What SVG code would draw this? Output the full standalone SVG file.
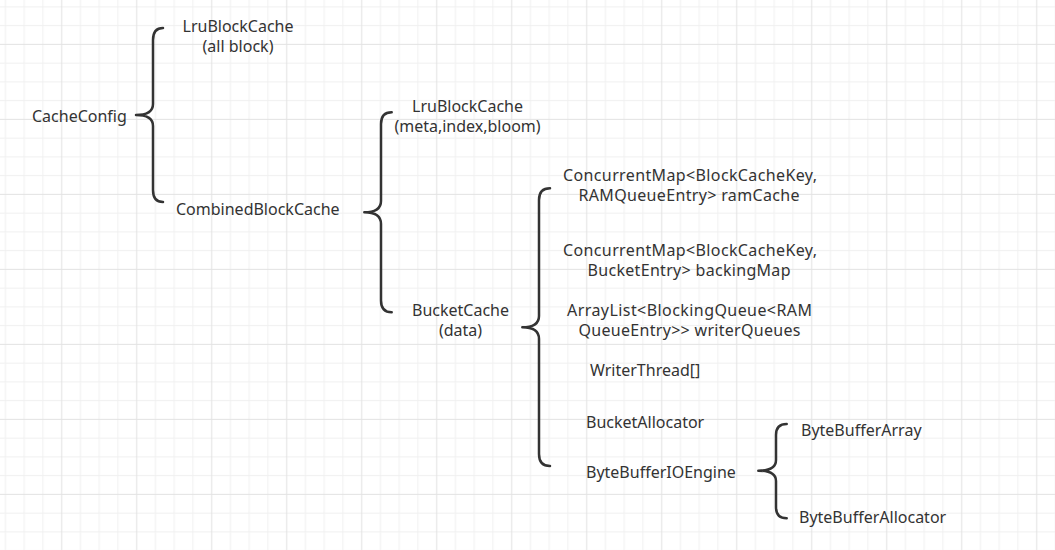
<svg xmlns="http://www.w3.org/2000/svg" width="1055" height="550" viewBox="0 0 1055 550">
<defs>
<pattern id="grid" patternUnits="userSpaceOnUse" x="-22.71" y="-40.04" width="75" height="75">
<path d="M28.125,0V75M46.875,0V75M65.625,0V75M0,28.125H75M0,46.875H75M0,65.625H75" stroke="#f0f0f0" stroke-width="1" fill="none"/>
<path d="M9.375,0V75M0,9.375H75" stroke="#e2e2e2" stroke-width="1" fill="none"/>
</pattern>
<style>
text{font-family:"Noto Sans","Open Sans","Liberation Sans",sans-serif;font-size:16px;fill:#333;text-anchor:middle}
.l{text-anchor:start}
.brace{fill:none;stroke:#333;stroke-width:2.5;stroke-linecap:round;stroke-linejoin:round}
</style>
</defs>
<rect width="1055" height="550" fill="#fff"/>
<rect width="1055" height="550" fill="url(#grid)"/>
<g id="connectors">
<path class="brace" d="M163,28 Q153,28 153,40 L153,104 Q153,115 136,115 Q153,115 153,126 L153,190 Q153,202 163,202"/>
<path class="brace" d="M391.7,112.3 Q381,112.3 381,124 L381,201 Q381,212.3 364.3,212.3 Q381,212.3 381,224 L381,300.5 Q381,312.3 391.7,312.3"/>
<path class="brace" d="M550,188.3 Q539,188.3 539,200 L539,316 Q539,327.3 522.3,327.3 Q539,327.3 539,339 L539,454 Q539,466 550,466"/>
<path class="brace" d="M786.7,424 Q776,424 776,435 L776,460 Q776,470.7 758.3,470.7 Q776,470.7 776,481 L776,507 Q776,518.3 786.7,518.3"/>
</g>
<g id="cacheconfig"><text class="l" x="32" y="122">CacheConfig</text></g>
<g id="lru-all"><text x="238" y="32">LruBlockCache</text><text x="238" y="52">(all block)</text></g>
<g id="combined"><text class="l" x="176" y="215">CombinedBlockCache</text></g>
<g id="lru-meta"><text x="467.5" y="112">LruBlockCache</text><text x="467.5" y="132">(meta,index,bloom)</text></g>
<g id="bucketcache"><text x="460.5" y="316">BucketCache</text><text x="460.5" y="336">(data)</text></g>
<g id="ramcache"><text class="l" x="563" y="181" textLength="254" lengthAdjust="spacing">ConcurrentMap&lt;BlockCacheKey,</text><text class="l" x="578.5" y="201" textLength="221" lengthAdjust="spacing">RAMQueueEntry&gt; ramCache</text></g>
<g id="backingmap"><text class="l" x="563" y="256" textLength="254" lengthAdjust="spacing">ConcurrentMap&lt;BlockCacheKey,</text><text class="l" x="587.5" y="276" textLength="203" lengthAdjust="spacing">BucketEntry&gt; backingMap</text></g>
<g id="writerqueues"><text class="l" x="567" y="316" textLength="245" lengthAdjust="spacing">ArrayList&lt;BlockingQueue&lt;RAM</text><text class="l" x="578.5" y="336" textLength="222" lengthAdjust="spacing">QueueEntry&gt;&gt; writerQueues</text></g>
<g id="writerthread"><text class="l" x="590" y="376">WriterThread[]</text></g>
<g id="bucketallocator"><text class="l" x="586" y="428">BucketAllocator</text></g>
<g id="ioengine"><text class="l" x="586" y="478">ByteBufferIOEngine</text></g>
<g id="bbarray"><text class="l" x="801" y="436">ByteBufferArray</text></g>
<g id="bballocator"><text class="l" x="799" y="523">ByteBufferAllocator</text></g>
</svg>
